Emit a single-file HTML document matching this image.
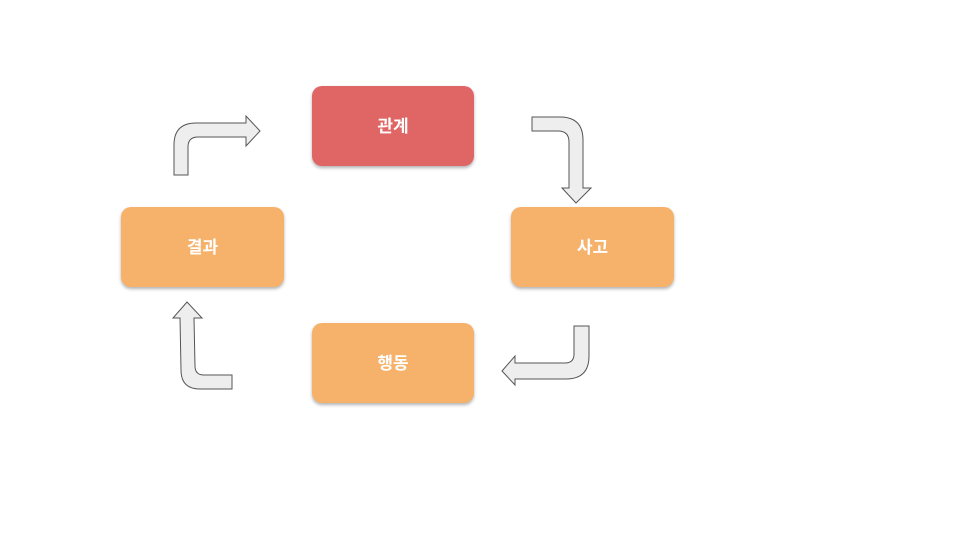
<!DOCTYPE html>
<html><head><meta charset="utf-8"><style>
body{margin:0;width:960px;height:540px;background:#fff;overflow:hidden;position:relative;font-family:"Liberation Sans","Noto Sans CJK KR",sans-serif}
.b{position:absolute;border-radius:10px;color:#fff;font-size:17px;font-weight:bold;display:flex;align-items:center;justify-content:center;box-shadow:0 2px 3px rgba(0,0,0,.3)}
.b span{position:relative;top:-2px}
svg{position:absolute;left:0;top:0}
</style></head><body>
<svg width="960" height="540">
<g fill="#eeeeee" stroke="#555" stroke-width="1">
<path d="M174,175 L174,145 Q174,123 196,123 L246,123 L246,116 L260,131 L246,146 L246,137 L198,137 Q188,137 188,147 L188,175 Z"/>
<path d="M532,117 L560,117 Q583,117 583,140 L583,188 L591,188 L576,203 L562,188 L569,188 L569,142 Q569,131 558,131 L532,131 Z"/>
<path d="M589,326 L589,356 Q589,379 566,379 L515,379 L515,385 L502,371 L515,356 L515,363 L565,363 Q574,363 574,354 L574,326 Z"/>
<path d="M232,389 L200,389 Q181,389 181,370 L180,318 L173,318 L187,302 L202,318 L194,318 L195,366 Q195,375 204,375 L232,375 Z"/>
</g></svg>
<div class="b" style="left:312px;top:86px;width:162px;height:80px;background:#e06666"><span>관계</span></div>
<div class="b" style="left:121px;top:207px;width:163px;height:80px;background:#f6b26b"><span>결과</span></div>
<div class="b" style="left:511px;top:207px;width:163px;height:80px;background:#f6b26b"><span>사고</span></div>
<div class="b" style="left:312px;top:323px;width:162px;height:80px;background:#f6b26b"><span>행동</span></div>
</body></html>
